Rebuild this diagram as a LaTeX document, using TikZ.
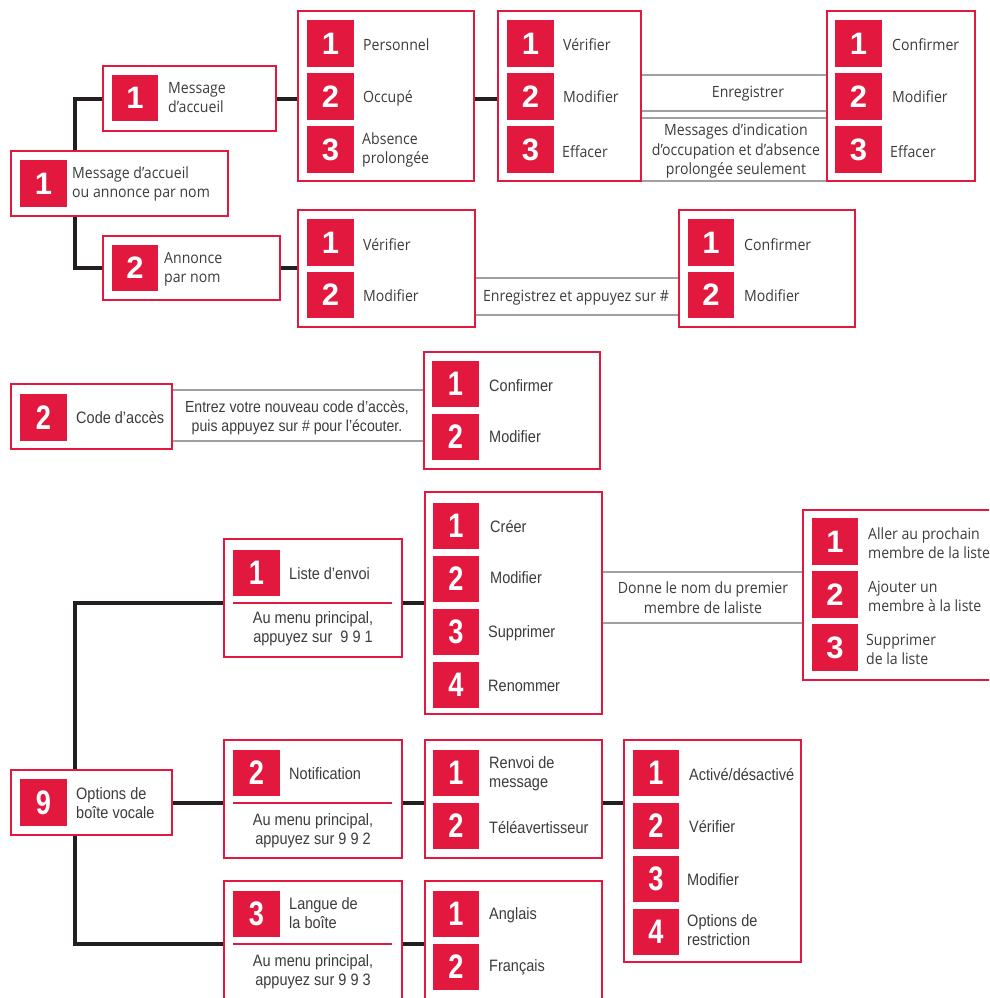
\documentclass[tikz,border=0pt]{standalone}
\usepackage{fontspec}
\setmainfont[FakeStretch=0.91]{Open Sans}
\newfontfamily\condfont[FakeStretch=0.88]{Liberation Sans}
\newfontfamily\numfont{Liberation Sans}
\newfontfamily\cnumfont[FakeStretch=0.8]{Liberation Sans}
\definecolor{bred}{HTML}{E3183E}
\definecolor{conncol}{HTML}{231F20}
\definecolor{grayline}{HTML}{A0A0A2}
\definecolor{txt}{HTML}{3C3C3C}
\newcommand\mkbox[5]{\node[box, minimum width={#4-#2}, minimum height={#5-#3}] (#1) at ({(#2+#4)/2},{(#3+#5)/2}) {};}
\begin{document}
\begin{tikzpicture}[x=1pt,y=-1pt,
 box/.style={draw=bred, line width=2pt, fill=white, inner sep=0pt, rectangle},
 badge/.style={fill=bred, text=white, minimum size=46.5pt, inner sep=0pt, font=\numfont\bfseries\fontsize{31}{31}\selectfont},
 cbadge/.style={badge, font=\cnumfont\bfseries\fontsize{34}{34}\selectfont},
 lbl/.style={anchor=west, align=left, text=txt, inner sep=0pt, font=\fontsize{15.5}{19}\selectfont},
 clbl/.style={lbl, font=\condfont\fontsize{16.5}{19}\selectfont},
 mid/.style={align=center, text=txt, inner sep=0pt, font=\fontsize{15.5}{19.5}\selectfont},
 cmid/.style={mid, font=\condfont\fontsize{16.5}{19}\selectfont},
 conn/.style={draw=conncol, line width=4pt},
 gline/.style={draw=grayline, line width=2pt},
 sep/.style={draw=bred, line width=2pt}]
\useasboundingbox (0,0) rectangle (989,998);
\clip (0,0) rectangle (989,998);
\coordinate (jx) at (75,0);

% ---------------- top section ----------------
\mkbox{A}{11}{151}{228}{216}
\mkbox{B}{103}{66}{276}{131}
\mkbox{C}{103}{236}{280}{300}
\mkbox{D}{298}{11}{474}{181}
\mkbox{E}{498}{11}{641}{181}
\mkbox{F}{827}{11}{975}{181}
\mkbox{G}{298}{210}{475}{327}
\mkbox{H}{679}{210}{855}{327}

\node[badge] (A1) at (43.5,183.5) {1};
\node[lbl] (At) at (72,184) {Message d’accueil\\ou annonce par nom};
\node[badge] (B1) at (135,98) {1};
\node[lbl] (Bt) at (168,98) {Message\\d’accueil};
\node[badge] (C1) at (135,268) {2};
\node[lbl] (Ct) at (164,269) {Annonce\\par nom};

\node[badge] (D1) at (330.5,43.5) {1};
\node[badge] (D2) at (330.5,96.5) {2};
\node[badge] (D3) at (330.5,149.5) {3};
\node[lbl] (D1t) at (363,45) {Personnel};
\node[lbl] (D2t) at (363,98) {Occupé};
\node[lbl] (D3t) at (362,150) {Absence\\prolongée};

\node[badge] (E1) at (530.5,43.5) {1};
\node[badge] (E2) at (530.5,96.5) {2};
\node[badge] (E3) at (530.5,149.5) {3};
\node[lbl] (E1t) at (563,45) {Vérifier};
\node[lbl] (E2t) at (563,97) {Modifier};
\node[lbl] (E3t) at (562,152) {Effacer};

\node[badge] (F1) at (858.5,43.5) {1};
\node[badge] (F2) at (858.5,96.5) {2};
\node[badge] (F3) at (858.5,149.5) {3};
\node[lbl] (F1t) at (892,45) {Confirmer};
\node[lbl] (F2t) at (892,97) {Modifier};
\node[lbl] (F3t) at (890,152) {Effacer};

\node[badge] (G1) at (330.5,242.5) {1};
\node[badge] (G2) at (330.5,295) {2};
\node[lbl] (G1t) at (363,245) {Vérifier};
\node[lbl] (G2t) at (363,296) {Modifier};

\node[badge] (H1) at (711,242.5) {1};
\node[badge] (H2) at (711,295) {2};
\node[lbl] (H1t) at (744,245) {Confirmer};
\node[lbl] (H2t) at (744,296) {Modifier};

\draw[conn] (B.west) -| (jx |- A.north);
\draw[conn] (jx |- A.south) |- (C.west);
\draw[conn] (B.east) -- (D.west |- B.east);
\draw[conn] (D.east |- B.east) -- (E.west |- B.east);
\draw[conn] (C.east) -- (G.west |- C.east);

\draw[gline] (E.east |- 0,75) -- (F.west |- 0,75);
\draw[gline] (E.east |- 0,111) -- (F.west |- 0,111);
\draw[gline] (E.east |- 0,118) -- (F.west |- 0,118);
\draw[gline] (E.east |- 0,181) -- (F.west |- 0,181);
\node[mid] (EFa) at (748,94) {Enregistrer};
\node[mid] (EFb) at (736,151) {Messages d’indication\\d’occupation et d’absence\\prolongée seulement};

\draw[gline] (G.east |- 0,278) -- (H.west |- 0,278);
\draw[gline] (G.east |- 0,315) -- (H.west |- 0,315);
\node[mid] (GH) at (576,298) {Enregistrez et appuyez sur \#};

% ---------------- middle section ----------------
\mkbox{I}{11}{384}{172}{449}
\mkbox{J}{424}{352}{600}{469}
\node[cbadge] (I2) at (43.5,417.5) {2};
\node[clbl] (It) at (76,418) {Code d’accès};
\node[cbadge] (J1) at (455.5,384) {1};
\node[cbadge] (J2) at (455.5,437) {2};
\node[clbl] (J1t) at (489,386) {Confirmer};
\node[clbl] (J2t) at (489,437) {Modifier};
\draw[gline] (I.east |- 0,390) -- (J.west |- 0,390);
\draw[gline] (I.east |- 0,441) -- (J.west |- 0,441);
\node[cmid, font=\condfont\fontsize{16}{19}\selectfont] (IJ) at (297,417.5) {Entrez votre nouveau code d’accès,\\puis appuyez sur \# pour l’écouter.};

% ---------------- bottom section ----------------
\mkbox{K}{11}{770}{172}{835}
\mkbox{L}{224}{539}{402}{657}
\mkbox{O}{425}{492}{602}{714}
\mkbox{P}{803}{510}{1010}{680}
\mkbox{M}{224}{740}{402}{858}
\mkbox{Q}{425}{740}{602}{858}
\mkbox{R}{624}{740}{801}{962}
\mkbox{N}{224}{881}{402}{1010}
\mkbox{S}{425}{881}{602}{1010}

\node[cbadge] (K9) at (43.5,802.5) {9};
\node[clbl] (Kt) at (76,803) {Options de\\boîte vocale};

\node[cbadge] (L1) at (256.5,573) {1};
\node[clbl] (Lt) at (289,574) {Liste d’envoi};
\draw[sep] (233,603) coordinate (Lsa) -- (392,603) coordinate (Lsb);
\node[cmid] (Lm) at (313,629) {Au menu principal,\\appuyez sur~~9 9 1};

\node[cbadge] (M2) at (256.5,773) {2};
\node[clbl] (Mt) at (289,774) {Notification};
\draw[sep] (233,803) coordinate (Msa) -- (392,803) coordinate (Msb);
\node[cmid] (Mm) at (313,831) {Au menu principal,\\appuyez sur 9 9 2};

\node[cbadge] (N3) at (256.5,914) {3};
\node[clbl] (Nt) at (289,913) {Langue de\\la boîte};
\draw[sep] (233,944) coordinate (Nsa) -- (392,944) coordinate (Nsb);
\node[cmid] (Nm) at (313,972) {Au menu principal,\\appuyez sur 9 9 3};

\node[cbadge] (O1) at (456,526) {1};
\node[cbadge] (O2) at (456,579) {2};
\node[cbadge] (O3) at (456,632) {3};
\node[cbadge] (O4) at (456,685) {4};
\node[clbl] (O1t) at (490,526) {Créer};
\node[clbl] (O2t) at (490,578) {Modifier};
\node[clbl] (O3t) at (488,633) {Supprimer};
\node[clbl] (O4t) at (488,686) {Renommer};

\node[badge] (P1) at (835,541.5) {1};
\node[badge] (P2) at (835,594.5) {2};
\node[badge] (P3) at (835,647.5) {3};
\node[lbl] (P1t) at (868,543) {Aller au prochain\\membre de la liste};
\node[lbl] (P2t) at (868,596) {Ajouter un\\membre à la liste};
\node[lbl] (P3t) at (866,649) {Supprimer\\de la liste};

\draw[gline] (O.east |- 0,572) -- (P.west |- 0,572);
\draw[gline] (O.east |- 0,623) -- (P.west |- 0,623);
\node[mid] (OP) at (703,597.5) {Donne le nom du premier\\membre de laliste};

\node[cbadge] (Q1) at (456,773) {1};
\node[cbadge] (Q2) at (456,826) {2};
\node[clbl] (Q1t) at (489,774) {Renvoi de\\message};
\node[clbl] (Q2t) at (489,827) {Téléavertisseur};

\node[cbadge] (R1) at (656,773) {1};
\node[cbadge] (R2) at (656,826) {2};
\node[cbadge] (R3) at (656,879) {3};
\node[cbadge] (R4) at (656,932) {4};
\node[clbl] (R1t) at (689,774) {Activé/désactivé};
\node[clbl] (R2t) at (689,826) {Vérifier};
\node[clbl] (R3t) at (687,880) {Modifier};
\node[clbl] (R4t) at (687,930) {Options de\\restriction};

\node[cbadge] (S1) at (456,914) {1};
\node[cbadge] (S2) at (456,967) {2};
\node[clbl] (S1t) at (489,915) {Anglais};
\node[clbl] (S2t) at (489,967) {Français};

\draw[conn] (jx |- K.north) |- (L.west |- Lsa);
\draw[conn] (jx |- K.south) |- (N.west |- Nsa);
\draw[conn] (K.east |- Msa) -- (M.west |- Msa);
\draw[conn] (L.east |- Lsa) -- (O.west |- Lsa);
\draw[conn] (M.east |- Msa) -- (Q.west |- Msa);
\draw[conn] (Q.east |- Msa) -- (R.west |- Msa);
\draw[conn] (N.east |- Nsa) -- (S.west |- Nsa);
\end{tikzpicture}
\end{document}
